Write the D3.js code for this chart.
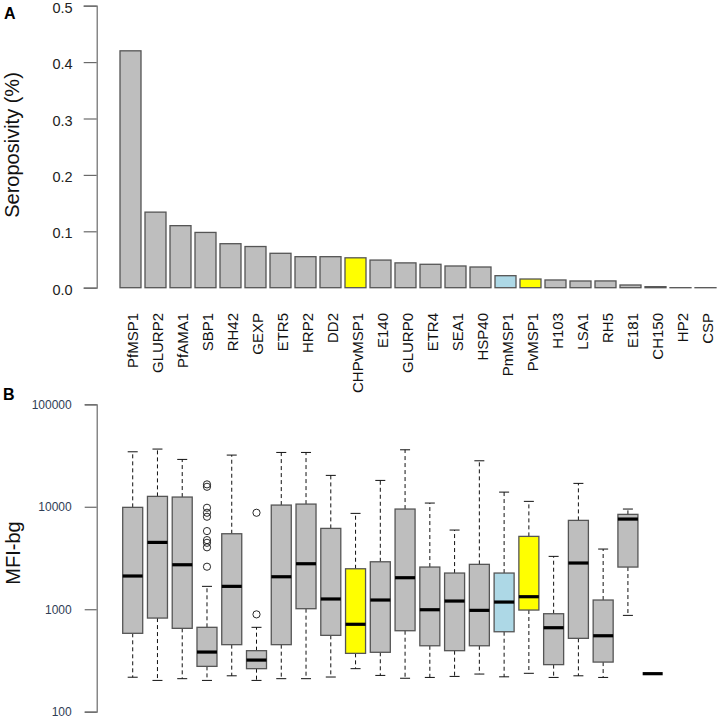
<!DOCTYPE html>
<html>
<head>
<meta charset="utf-8">
<script src="https://cdn.jsdelivr.net/npm/d3@7"></script>
<style>
  html, body { margin: 0; padding: 0; background: #fff; }
  svg { display: block; font-family: "Liberation Sans", Arial, Helvetica, sans-serif; }
</style>
</head>
<body>
<svg id="chart" width="717" height="718"></svg>
<script>
// ---------- DATA ----------
const categories = ["PfMSP1","GLURP2","PfAMA1","SBP1","RH42","GEXP","ETR5","HRP2","DD2","CHPvMSP1","E140","GLURP0","ETR4","SEA1","HSP40","PmMSP1","PvMSP1","H103","LSA1","RH5","E181","CH150","HP2","CSP"];
const species = ["Pf","Pf","Pf","Pf","Pf","Pf","Pf","Pf","Pf","Pv","Pf","Pf","Pf","Pf","Pf","Pm","Pv","Pf","Pf","Pf","Pf","Pf","Pf","Pf"];
const seropositivity = [0.420,0.134,0.110,0.098,0.078,0.073,0.061,0.055,0.055,0.053,0.049,0.044,0.0415,0.0385,0.0367,0.0213,0.0154,0.0137,0.0119,0.012,0.0048,0.0018,0,0];

// Box plot statistics of MFI-bg (null = no data)
const whiskerLow  = [217,202,210,202,224,202,210,210,218,263,226,212,216,221,233,219,237,216,224,216,871,235,null,null];
const boxLow      = [582,820,651,277,451,263,451,1012,556,371,380,617,440,394,440,603,982,288,520,305,2580,235,null,null];
const medians     = [2110,4490,2717,382,1672,319,2075,2780,1259,713,1230,2030,989,1202,975,1175,1325,660,2825,551,7586,235,null,null];
const boxHigh     = [9870,12630,12440,666,5454,394,10390,10620,6150,2483,2905,9500,2580,2255,2742,2255,5140,904,7365,1230,8430,235,null,null];
const whiskerHigh = [34400,36560,28980,1672,31940,666,33900,33900,20240,8620,18080,35980,10870,5925,28100,13900,11290,3280,16910,3866,9500,235,null,null];
const outliers    = [[],[],[],[2600,4020,4450,4730,5790,7990,8740,9780,15670,16540],[],[891,8740],[],[],[],[],[],[],[],[],[],[],[],[],[],[],[],[],[],[]];

const seroTicks = [0, 0.1, 0.2, 0.3, 0.4, 0.5];
const mfiTicks = [100, 1000, 10000, 100000];

// ---------- STYLE ----------
const speciesColor = d3.scaleOrdinal().domain(["Pf","Pv","Pm"]).range(["#bebebe","#ffff00","#add8e6"]);
const axisColor = "#6a6a6a";
const edgeColor = "#555555";

const svg = d3.select("#chart");

// ---------- PANEL A ----------
const xA = d3.scaleBand().domain(categories).range([120, 716]).paddingInner(0.16).paddingOuter(0);
const yA = d3.scaleLinear().domain([0, 0.5]).range([287.7, 5.7]);

const gA = svg.append("g");
gA.selectAll("rect.bar").data(categories).join("rect")
  .attr("class", "bar")
  .attr("x", d => xA(d))
  .attr("width", xA.bandwidth())
  .attr("y", (d, i) => yA(seropositivity[i]))
  .attr("height", (d, i) => Math.max(yA(0) - yA(seropositivity[i]), 0.01))
  .attr("fill", (d, i) => speciesColor(species[i]))
  .attr("stroke", edgeColor)
  .attr("stroke-width", 1.3);

const axisA = gA.append("g").attr("transform", "translate(96.7,0)")
  .call(d3.axisLeft(yA).tickValues(seroTicks).tickFormat(d3.format(".1f")).tickSize(13).tickPadding(11));
axisA.select(".domain").attr("stroke", axisColor).attr("stroke-width", 1.2);
axisA.selectAll(".tick line").attr("stroke", axisColor).attr("stroke-width", 1.2);
axisA.selectAll(".tick text").attr("font-size", 14.5).attr("fill", "#222").attr("font-family", null).attr("dy", "0.45em");

// category labels
gA.selectAll("text.cat").data(categories).join("text")
  .attr("class", "cat")
  .attr("transform", d => `translate(${xA(d) + xA.bandwidth() / 2 + 2},313) rotate(-90)`)
  .attr("text-anchor", "end")
  .attr("dy", "0.35em")
  .attr("font-size", 15)
  .attr("fill", "#111")
  .text(d => d);

gA.append("text").attr("transform", "translate(19,145) rotate(-90)")
  .attr("text-anchor", "middle").attr("font-size", 20).attr("fill", "#111")
  .text("Seroposivity (%)");
gA.append("text").attr("x", 4).attr("y", 18.5).attr("font-size", 16).attr("font-weight", "bold").text("A");

// ---------- PANEL B ----------
const xB = d3.scaleBand().domain(categories).range([122.7, 712.2]).paddingInner(0.192).paddingOuter(0);
const yB = d3.scaleLog().domain([100, 100000]).range([711.7, 404.3]);

const gB = svg.append("g");
const boxIdx = d3.range(categories.length).filter(i => medians[i] !== null);
const bw = xB.bandwidth();

const boxes = gB.selectAll("g.box").data(boxIdx).join("g").attr("class", "box")
  .attr("transform", i => `translate(${xB(categories[i])},0)`);

// whiskers (dashed)
boxes.append("line").attr("x1", bw / 2).attr("x2", bw / 2)
  .attr("y1", i => yB(boxHigh[i])).attr("y2", i => yB(whiskerHigh[i]))
  .attr("stroke", "#111").attr("stroke-width", 1).attr("stroke-dasharray", "4,3");
boxes.append("line").attr("x1", bw / 2).attr("x2", bw / 2)
  .attr("y1", i => yB(boxLow[i])).attr("y2", i => yB(whiskerLow[i]))
  .attr("stroke", "#111").attr("stroke-width", 1).attr("stroke-dasharray", "4,3");
// caps
boxes.append("line").attr("x1", bw / 4).attr("x2", bw * 3 / 4)
  .attr("y1", i => yB(whiskerHigh[i])).attr("y2", i => yB(whiskerHigh[i]))
  .attr("stroke", "#111").attr("stroke-width", 1);
boxes.append("line").attr("x1", bw / 4).attr("x2", bw * 3 / 4)
  .attr("y1", i => yB(whiskerLow[i])).attr("y2", i => yB(whiskerLow[i]))
  .attr("stroke", "#111").attr("stroke-width", 1);
// box
boxes.filter(i => boxHigh[i] > boxLow[i]).append("rect")
  .attr("x", 0).attr("width", bw)
  .attr("y", i => yB(boxHigh[i]))
  .attr("height", i => yB(boxLow[i]) - yB(boxHigh[i]))
  .attr("fill", i => speciesColor(species[i]))
  .attr("stroke", edgeColor).attr("stroke-width", 1.3);
// median
boxes.append("line").attr("x1", 0).attr("x2", bw)
  .attr("y1", i => yB(medians[i])).attr("y2", i => yB(medians[i]))
  .attr("stroke", "#000").attr("stroke-width", 3.2);
// outliers
boxes.selectAll("circle").data(i => outliers[i]).join("circle")
  .attr("cx", bw / 2).attr("cy", v => yB(v)).attr("r", 3.6)
  .attr("fill", "none").attr("stroke", "#111").attr("stroke-width", 0.9);

const axisB = gB.append("g").attr("transform", "translate(96.7,0)")
  .call(d3.axisLeft(yB).tickValues(mfiTicks).tickFormat(d3.format("d")).tickSize(12).tickPadding(13));
axisB.select(".domain").attr("stroke", axisColor).attr("stroke-width", 1.2);
axisB.selectAll(".tick line").attr("stroke", axisColor).attr("stroke-width", 1.2);
axisB.selectAll(".tick text").attr("font-size", 12).attr("fill", "#2f3d55").attr("font-family", null);

gB.append("text").attr("transform", "translate(20,553) rotate(-90)")
  .attr("text-anchor", "middle").attr("font-size", 20).attr("fill", "#111")
  .text("MFI-bg");
gB.append("text").attr("x", 3).attr("y", 400).attr("font-size", 16).attr("font-weight", "bold").text("B");
</script>
</body>
</html>
